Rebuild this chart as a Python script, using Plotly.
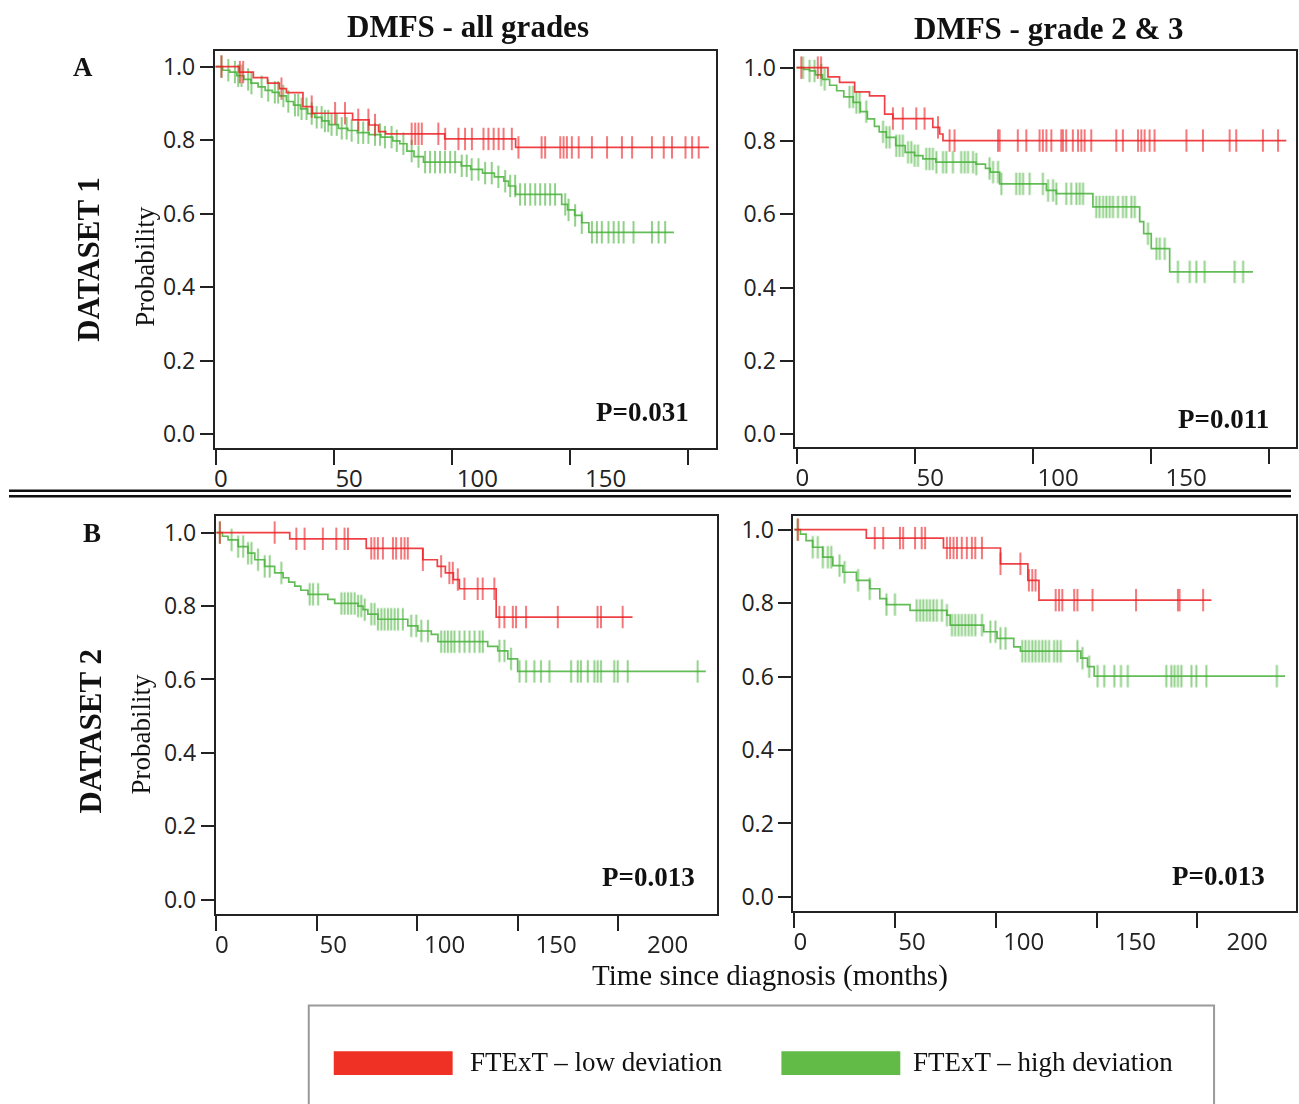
import numpy as np
import plotly.graph_objects as go

W, H = 1299, 1104

# ---------------- DATA ----------------
# Panel A1: DATASET 1, DMFS - all grades
a1_red_t = [0, 10, 16, 22, 27, 30, 37, 41, 58, 65, 69, 72, 97, 127]
a1_red_s = [1.0, 0.985, 0.97, 0.955, 0.94, 0.929, 0.891, 0.873, 0.855, 0.841, 0.823, 0.817, 0.803, 0.78]
a1_red_end = 208.8
a1_red_cens = [2.5, 10.3, 11.7, 27.9, 40.7, 50.6, 54.8, 60.4, 64.7, 67.5, 83.0, 84.5, 85.9, 87.3, 94.3,
               97.2, 102.8, 105.6, 108.5, 113.4, 115.5, 117.7, 119.8, 121.9, 125.4, 128.2, 138.0, 139.5,
               145.9, 147.3, 148.7, 150.8, 153.7, 159.3, 165.7, 172.0, 176.3, 184.7, 189.7, 193.2, 198.9,
               201.7, 204.5]
a1_grn_t = [0, 3, 6, 9, 12, 15, 18, 21, 24, 27, 30, 33, 36, 39, 42, 45, 48, 52, 56, 60, 65, 70, 75, 78,
            81, 84, 88, 104, 108, 113, 118, 122, 124, 127, 146.5, 149, 152, 155, 158]
a1_grn_s = [1.0, 0.99, 0.985, 0.975, 0.965, 0.955, 0.945, 0.935, 0.93, 0.92, 0.905, 0.895, 0.885, 0.872,
            0.862, 0.852, 0.842, 0.832, 0.826, 0.82, 0.815, 0.808, 0.798, 0.79, 0.77, 0.755, 0.74, 0.73,
            0.72, 0.71, 0.70, 0.688, 0.675, 0.652, 0.625, 0.61, 0.595, 0.575, 0.549]
a1_grn_end = 194
a1_grn_cens = [2.5, 5.4, 8.2, 9.6, 11.0, 13.8, 15.2, 19.5, 22.3, 25.1, 26.5, 28.7, 30.8, 33.6, 35.0, 36.4,
               38.5, 40.7, 42.8, 44.9, 46.3, 47.7, 49.1, 51.3, 53.4, 55.5, 57.6, 60.4, 62.5, 64.7, 67.5,
               69.6, 71.7, 74.5, 76.7, 79.5, 83.0, 85.9, 88.7, 90.8, 92.9, 95.0, 97.1, 99.3, 101.4, 104.2,
               106.3, 108.4, 111.3, 114.1, 116.9, 119.7, 122.6, 124.7, 126.8, 128.9, 131.0, 133.2, 135.3,
               137.4, 139.5, 141.6, 143.7, 148.0, 149.4, 152.2, 155.0, 159.3, 161.4, 163.5, 166.3, 168.5,
               170.6, 172.7, 176.9, 184.7, 187.5, 190.3]

# Panel A2: DATASET 1, DMFS - grade 2 & 3
a2_red_t = [0, 13.3, 18.2, 24.6, 30.9, 37.3, 40.8, 57.7, 60.6, 62]
a2_red_s = [1.0, 0.975, 0.96, 0.934, 0.923, 0.873, 0.861, 0.837, 0.819, 0.801]
a2_red_end = 207.4
a2_red_cens = [2.0, 9.0, 10.4, 40.8, 45.0, 50.7, 54.2, 59.9, 64.8, 66.9, 85.3, 86.0, 93.7, 97.3, 102.9,
               104.3, 105.8, 107.9, 112.1, 112.8, 114.2, 117.0, 119.2, 120.6, 122.0, 124.8, 135.4, 138.2,
               144.6, 146.0, 147.4, 149.5, 151.6, 165.1, 172.1, 183.4, 186.2, 197.5, 203.9]
a2_grn_t = [0, 3, 5.5, 8, 11, 14, 17, 20, 24, 27, 30, 33, 35, 38, 42, 46, 50, 53.5, 59, 76, 80, 82, 86,
            105.8, 110, 125.5, 145.3, 147, 150.2, 158]
a2_grn_s = [1.0, 0.995, 0.991, 0.98, 0.968, 0.952, 0.937, 0.92, 0.905, 0.88, 0.86, 0.84, 0.825, 0.81,
            0.787, 0.769, 0.76, 0.751, 0.742, 0.737, 0.725, 0.715, 0.683, 0.665, 0.656, 0.62, 0.58, 0.547,
            0.506, 0.443]
a2_grn_end = 193.3
a2_grn_cens = [2.7, 5.5, 7.6, 10.4, 11.9, 22.4, 23.9, 25.3, 26.7, 29.5, 36.6, 38.0, 39.4, 42.2, 43.6, 45.0,
               47.2, 48.6, 50.0, 51.4, 54.9, 56.3, 57.7, 59.2, 62.0, 63.4, 66.2, 69.7, 71.2, 72.6, 74.7,
               76.1, 81.7, 83.2, 85.3, 86.7, 93.0, 94.5, 95.9, 98.7, 104.3, 106.5, 108.6, 110.0, 114.2,
               116.3, 118.5, 119.9, 121.3, 126.9, 128.3, 129.8, 131.2, 132.6, 134.0, 136.1, 138.2, 139.6,
               141.8, 143.2, 148.8, 152.4, 153.8, 155.9, 161.5, 166.5, 169.3, 172.8, 185.5, 189.1]

# Panel B1: DATASET 2, DMFS - all grades
b1_red_t = [0, 36.5, 74.6, 102.8, 110, 114, 118, 121, 139.3]
b1_red_s = [1.0, 0.983, 0.957, 0.926, 0.908, 0.89, 0.872, 0.847, 0.77]
b1_red_end = 207.2
b1_red_cens = [1.7, 29.0, 39.8, 43.9, 53.0, 59.7, 63.8, 65.5, 77.1, 78.7, 80.4, 82.9, 87.9, 89.5, 92.0,
               93.7, 95.3, 102.8, 111.9, 116.0, 117.7, 120.2, 123.5, 130.1, 132.6, 138.4, 140.9, 143.4,
               147.6, 149.2, 154.2, 170.0, 189.8, 191.5, 202.3]
b1_grn_t = [0, 3, 5.8, 10.8, 15.7, 19.1, 24, 29, 33.2, 36, 39, 42, 45.6, 55.5, 58.9, 70.5, 73, 75.4, 80.4,
            95.3, 100.3, 107, 110.3, 135.1, 140.1, 145.1, 150]
b1_grn_s = [1.0, 0.99, 0.98, 0.962, 0.944, 0.926, 0.908, 0.89, 0.877, 0.865, 0.854, 0.843, 0.832, 0.818,
            0.807, 0.8, 0.79, 0.778, 0.764, 0.746, 0.732, 0.723, 0.703, 0.69, 0.678, 0.656, 0.622]
b1_grn_end = 243.7
b1_grn_cens = [1.7, 7.5, 10.8, 13.3, 15.7, 17.4, 20.7, 24.0, 26.5, 32.3, 46.4, 48.1, 50.6, 62.2, 63.8,
               65.5, 67.1, 68.8, 70.5, 72.1, 73.8, 77.1, 78.7, 80.4, 82.1, 83.7, 85.4, 87.0, 88.7, 90.4,
               92.8, 97.0, 99.5, 102.0, 105.3, 111.9, 113.6, 115.2, 116.9, 118.5, 121.0, 123.5, 126.0,
               128.5, 131.0, 132.6, 140.9, 143.4, 146.7, 150.9, 154.2, 158.3, 161.6, 165.8, 176.6, 179.9,
               181.5, 184.9, 188.2, 189.8, 191.5, 198.1, 199.8, 204.8, 239.6]

# Panel B2: DATASET 2, DMFS - grade 2 & 3
b2_red_t = [0, 35.7, 74.0, 102.3, 115.9, 121.4]
b2_red_s = [1.0, 0.977, 0.95, 0.907, 0.862, 0.808]
b2_red_end = 207
b2_red_cens = [1.7, 39.9, 44.1, 52.4, 54.0, 59.9, 63.2, 64.9, 75.7, 77.3, 79.0, 80.7, 83.1, 85.6, 88.1,
               89.8, 93.1, 102.3, 112.2, 116.4, 118.1, 119.7, 129.7, 131.4, 133.0, 138.9, 140.5, 148.0,
               169.6, 190.4, 191.2, 202.9]
b2_grn_t = [0, 3, 5.8, 9.1, 14.1, 19.1, 24.1, 30.8, 37.4, 42.4, 45.7, 57.4, 75.7, 77.3, 94, 100.6, 108.9,
            112.2, 142.2, 145.5, 148.8]
b2_grn_s = [1.0, 0.988, 0.97, 0.952, 0.925, 0.902, 0.884, 0.862, 0.839, 0.812, 0.796, 0.78, 0.767, 0.74,
            0.722, 0.704, 0.681, 0.669, 0.65, 0.627, 0.601]
b2_grn_end = 243.6
b2_grn_cens = [1.7, 9.1, 11.6, 14.1, 16.6, 18.3, 22.4, 24.9, 31.6, 37.4, 45.7, 49.9, 60.7, 62.4, 64.0,
               65.7, 67.3, 69.0, 70.7, 73.2, 75.7, 78.2, 79.8, 81.5, 83.1, 84.8, 86.5, 88.1, 89.8, 93.1,
               97.3, 99.8, 102.3, 104.8, 113.1, 114.7, 116.4, 118.1, 119.7, 121.4, 123.1, 124.7, 126.4,
               128.9, 130.5, 132.2, 140.5, 143.0, 146.3, 150.5, 153.8, 158.8, 162.1, 165.5, 184.6, 187.1,
               188.7, 190.4, 192.1, 197.1, 199.5, 204.5, 239.5]

p_values = ["P=0.031", "P=0.011", "P=0.013", "P=0.013"]
col_titles = ["DMFS - all grades", "DMFS - grade 2 & 3"]
row_titles = ["DATASET 1", "DATASET 2"]
row_letters = ["A", "B"]
legend_labels = ["FTExT \u2013 low deviation", "FTExT \u2013 high deviation"]
y_ticks = [0.0, 0.2, 0.4, 0.6, 0.8, 1.0]
x_ticks_a = [0, 50, 100, 150, 200]
x_labels_a = [0, 50, 100, 150]
x_ticks_b = [0, 50, 100, 150, 200]
x_labels_b = [0, 50, 100, 150, 200]

# ---------------- STYLE ----------------
RED = "rgba(236,32,36,0.85)"
GREEN = "rgba(72,178,58,0.85)"
RED_SW = "#EE3124"
GREEN_SW = "#62BB46"
AX = "#222222"
SERIF = "Liberation Serif"
SANS = "Open Sans"

def px(x):
    return x / W

def py(y):
    return 1 - y / H

# panel boxes in pixel coords (left, top, right, bottom), data-axis range, label-axis range, y range
panels = [
    dict(box=(214, 48, 716, 447), xr=[-0.3, 212.0], lr=[-2.34, 193.2], yr=[-0.038, 1.043],
         ticks=x_ticks_a, labels=x_labels_a,
         red=(a1_red_t, a1_red_s, a1_red_end, a1_red_cens),
         grn=(a1_grn_t, a1_grn_s, a1_grn_end, a1_grn_cens)),
    dict(box=(795, 48, 1296, 446), xr=[-0.5, 211.5], lr=[-2.73, 193.0], yr=[-0.035, 1.046],
         ticks=x_ticks_a, labels=x_labels_a,
         red=(a2_red_t, a2_red_s, a2_red_end, a2_red_cens),
         grn=(a2_grn_t, a2_grn_s, a2_grn_end, a2_grn_cens)),
    dict(box=(215, 515, 717, 915), xr=[-0.3, 249.5], lr=[-2.69, 222.4], yr=[-0.038, 1.046],
         ticks=x_ticks_b, labels=x_labels_b,
         red=(b1_red_t, b1_red_s, b1_red_end, b1_red_cens),
         grn=(b1_grn_t, b1_grn_s, b1_grn_end, b1_grn_cens)),
    dict(box=(793, 515, 1296, 912), xr=[-0.5, 249.0], lr=[-3.13, 221.9], yr=[-0.038, 1.038],
         ticks=x_ticks_b, labels=x_labels_b,
         red=(b2_red_t, b2_red_s, b2_red_end, b2_red_cens),
         grn=(b2_grn_t, b2_grn_s, b2_grn_end, b2_grn_cens)),
]

def step_value(t, s, x):
    t = np.asarray(t, float)
    s = np.asarray(s, float)
    idx = np.searchsorted(t, np.asarray(x, float), side="right") - 1
    idx = np.clip(idx, 0, len(s) - 1)
    return s[idx]

fig = go.Figure()
layout = dict(width=W, height=H, autosize=False, margin=dict(l=0, r=0, t=0, b=0),
              paper_bgcolor="white", plot_bgcolor="white", showlegend=False)

for i, p in enumerate(panels):
    n = i + 1
    xa = "x" if n == 1 else f"x{n}"
    ya = "y" if n == 1 else f"y{n}"
    la = f"x{n + 4}"
    l, t, r, b = p["box"]
    xdom = [px(l), px(r)]
    ydom = [py(b), py(t)]
    layout["xaxis" if n == 1 else f"xaxis{n}"] = dict(
        domain=xdom, range=p["xr"], anchor=ya, tickvals=p["ticks"], showticklabels=False,
        ticks="outside", ticklen=15, tickwidth=2, tickcolor=AX, showline=True, linewidth=2,
        linecolor=AX, mirror=True, showgrid=False, zeroline=False, fixedrange=True)
    layout[f"xaxis{n + 4}"] = dict(
        overlaying=xa, anchor=ya, side="bottom", range=p["lr"], tickvals=p["labels"],
        ticktext=[str(v) for v in p["labels"]], ticks="outside", ticklen=9,
        tickcolor="rgba(0,0,0,0)", showline=False, showgrid=False, zeroline=False,
        tickfont=dict(family=SANS, size=24, color=AX), fixedrange=True)
    layout["yaxis" if n == 1 else f"yaxis{n}"] = dict(
        domain=ydom, range=p["yr"], anchor=xa, tickvals=y_ticks,
        ticktext=[f"{v:.1f}" for v in y_ticks], ticks="outside", ticklen=13, tickwidth=2,
        tickcolor=AX, showline=True, linewidth=2, linecolor=AX, mirror=True, showgrid=False,
        zeroline=False, tickfont=dict(family=SANS, size=23, color=AX), fixedrange=True)

    # dummy trace for label axis
    fig.add_trace(go.Scatter(x=[], y=[], xaxis=la, yaxis=ya, hoverinfo="skip"))

    for key, col, name in (("grn", GREEN, legend_labels[1]), ("red", RED, legend_labels[0])):
        tt, ss, end, cens = p[key]
        fig.add_trace(go.Scatter(
            x=list(tt) + [end], y=list(ss) + [ss[-1]], mode="lines", name=name,
            line=dict(color=col, width=1.7, shape="hv"), xaxis=xa, yaxis=ya))
        fig.add_trace(go.Scatter(
            x=cens, y=step_value(tt, ss, cens), mode="markers", name=name,
            marker=dict(symbol="line-ns", size=16, line=dict(width=2, color=col)),
            opacity=0.7, xaxis=xa, yaxis=ya))

annotations = []
def ann(text, x, y, size, bold=False, family=SERIF, xanchor="center", yanchor="middle", angle=0,
        color="#111111"):
    annotations.append(dict(
        text=f"<b>{text}</b>" if bold else text, x=px(x), y=py(y), xref="paper", yref="paper",
        showarrow=False, xanchor=xanchor, yanchor=yanchor, textangle=angle,
        font=dict(family=family, size=size, color=color)))

ann(col_titles[0], 467, 24, 31, bold=True)
ann(col_titles[1], 1048, 26, 31, bold=True)
ann(row_letters[0], 82, 64, 27, bold=True)
ann(row_letters[1], 91, 532, 27, bold=True)
ann(row_titles[0], 88, 257, 31, bold=True, angle=-90)
ann(row_titles[1], 90, 731, 31, bold=True, angle=-90)
ann("Probability", 144, 265, 27, angle=-90)
ann("Probability", 140, 735, 27, angle=-90)
ann(p_values[0], 691, 411, 27, bold=True, xanchor="right")
ann(p_values[1], 1271, 418, 27, bold=True, xanchor="right")
ann(p_values[2], 697, 878, 27, bold=True, xanchor="right")
ann(p_values[3], 1267, 877, 27, bold=True, xanchor="right")
ann("Time since diagnosis (months)", 770, 977, 29)
ann(legend_labels[0], 467, 1064, 27, xanchor="left")
ann(legend_labels[1], 911, 1064, 27, xanchor="left")

shapes = [
    # double separator between rows
    dict(type="line", xref="paper", yref="paper", x0=px(8), x1=px(1291), y0=py(490), y1=py(490),
         line=dict(color="#111", width=2.5)),
    dict(type="line", xref="paper", yref="paper", x0=px(8), x1=px(1291), y0=py(495.5), y1=py(495.5),
         line=dict(color="#111", width=2.5)),
    # legend box
    dict(type="rect", xref="paper", yref="paper", x0=px(308), x1=px(1214), y0=py(1112), y1=py(1007),
         line=dict(color="#9a9a9a", width=2), fillcolor="rgba(0,0,0,0)"),
    dict(type="rect", xref="paper", yref="paper", x0=px(333), x1=px(452), y0=py(1077), y1=py(1053),
         line=dict(width=0), fillcolor=RED_SW),
    dict(type="rect", xref="paper", yref="paper", x0=px(781), x1=px(900), y0=py(1077), y1=py(1053),
         line=dict(width=0), fillcolor=GREEN_SW),
]

layout["annotations"] = annotations
layout["shapes"] = shapes
fig.update_layout(**layout)
fig.write_html("out.html", config={"displayModeBar": False},
               post_script="document.body.style.margin='0px';document.body.style.overflow='hidden';")
